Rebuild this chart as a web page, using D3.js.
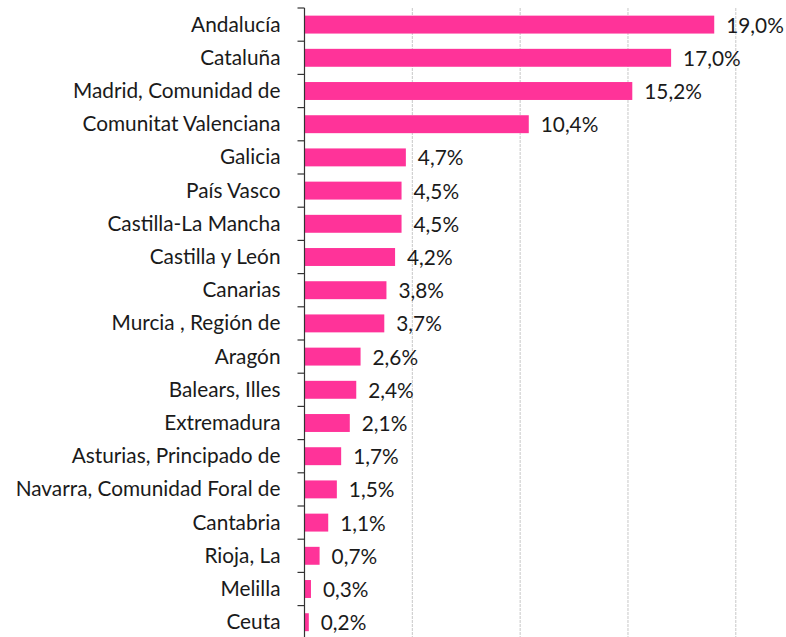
<!DOCTYPE html>
<html>
<head>
<meta charset="utf-8">
<script src="https://cdn.jsdelivr.net/npm/d3@7"></script>
<style>
  html, body { margin: 0; padding: 0; background: #fff; }
  svg { display: block; }
  text { font-family: Lato, "DejaVu Sans", sans-serif; fill: #1a1a1a; }
</style>
</head>
<body>
<svg id="chart" width="786" height="637"></svg>
<script>
// Share of total by autonomous community (%)
const regions = [
  "Andalucía", "Cataluña", "Madrid, Comunidad de", "Comunitat Valenciana",
  "Galicia", "País Vasco", "Castilla-La Mancha", "Castilla y León",
  "Canarias", "Murcia , Región de", "Aragón", "Balears, Illes",
  "Extremadura", "Asturias, Principado de", "Navarra, Comunidad Foral de",
  "Cantabria", "Rioja, La", "Melilla", "Ceuta"
];
const shares = [19.0, 17.0, 15.2, 10.4, 4.7, 4.5, 4.5, 4.2, 3.8, 3.7, 2.6, 2.4, 2.1, 1.7, 1.5, 1.1, 0.7, 0.3, 0.2];
const gridTicks = [5, 10, 15, 20];

const rows = regions.map((r, i) => ({ region: r, value: shares[i] }));

const svg = d3.select("#chart");
const margin = { top: 8, left: 304.5 };
const xMax = 735.8;
const bandStep = 33.2;
const innerH = bandStep * regions.length;
const fontSize = 20.8;

const x = d3.scaleLinear().domain([0, 20]).range([margin.left, xMax]);
const y = d3.scaleBand()
  .domain(regions)
  .range([margin.top, margin.top + innerH])
  .paddingInner(0.46)
  .paddingOuter(0.23);

const es = d3.formatLocale({ decimal: ",", thousands: ".", grouping: [3], currency: ["", "€"] });
const fmt = es.format(".1f");

// vertical dashed gridlines
svg.append("g")
  .selectAll("line")
  .data(gridTicks)
  .join("line")
  .attr("x1", d => x(d)).attr("x2", d => x(d))
  .attr("y1", margin.top).attr("y2", margin.top + innerH)
  .attr("stroke", "#c8c8c8")
  .attr("stroke-width", 1)
  .attr("stroke-dasharray", "3,1");

// bars
svg.append("g")
  .selectAll("rect")
  .data(rows)
  .join("rect")
  .attr("x", x(0))
  .attr("y", d => y(d.region))
  .attr("width", d => x(d.value) - x(0))
  .attr("height", y.bandwidth())
  .attr("fill", "#ff3399");

// value labels
svg.append("g")
  .selectAll("text")
  .data(rows)
  .join("text")
  .attr("x", d => x(d.value) + 12)
  .attr("y", d => y(d.region) + y.bandwidth() / 2 + 8)
  .attr("font-size", fontSize)
  .text(d => fmt(d.value) + "%");

// category axis: line with ticks at band boundaries
const axisG = svg.append("g");
axisG.append("line")
  .attr("x1", x(0)).attr("x2", x(0))
  .attr("y1", margin.top).attr("y2", margin.top + innerH)
  .attr("stroke", "#333").attr("stroke-width", 1.2);
const bounds = d3.range(regions.length + 1).map(i => margin.top + i * bandStep);
axisG.selectAll("line.tick")
  .data(bounds)
  .join("line")
  .attr("class", "tick")
  .attr("x1", x(0) - 7).attr("x2", x(0))
  .attr("y1", d => d).attr("y2", d => d)
  .attr("stroke", "#333").attr("stroke-width", 1.2);

axisG.selectAll("text")
  .data(regions)
  .join("text")
  .attr("x", x(0) - 24)
  .attr("y", d => y(d) + y.bandwidth() / 2 + 7)
  .attr("text-anchor", "end")
  .attr("font-size", fontSize)
  .text(d => d);
</script>
</body>
</html>
